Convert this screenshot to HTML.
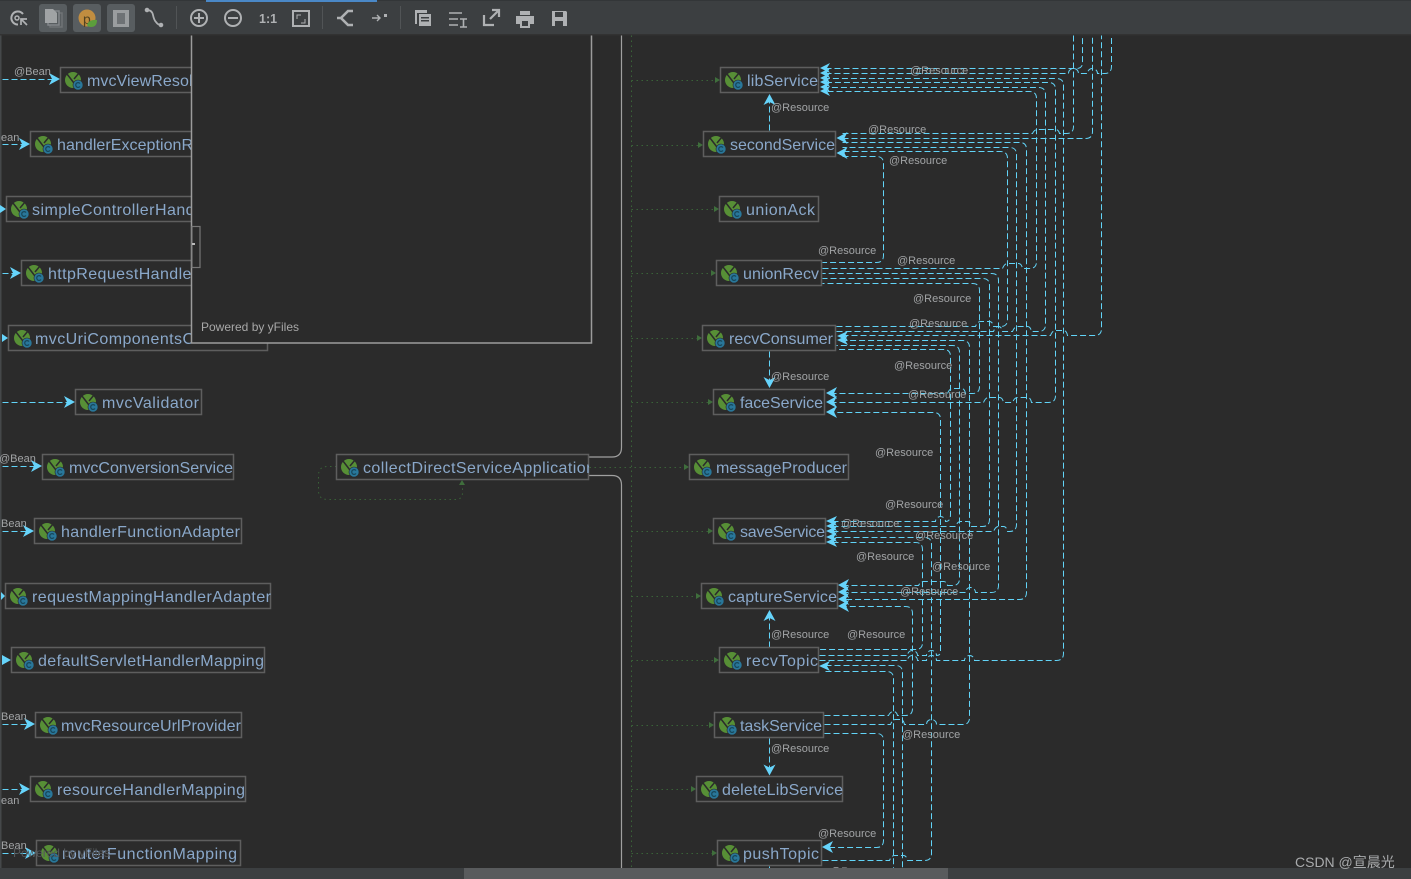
<!DOCTYPE html>
<html>
<head>
<meta charset="utf-8">
<style>
html,body{margin:0;padding:0;background:#2b2b2b;width:1411px;height:879px;overflow:hidden}
svg{display:block}
.n rect{fill:#2b2b2b;stroke:#5e5e5e;stroke-width:1.5}
.n text{font:16px "Liberation Sans",sans-serif;fill:#8aa8ca}
.l text{font:11px "Liberation Sans",sans-serif;fill:#a2a4a6}
.e path{fill:none;stroke:#62d4f8;stroke-width:1;stroke-dasharray:6 3}
.a path{fill:#66d4fb;stroke:none}
.g path{fill:none;stroke:#3a6338;stroke-width:1;stroke-dasharray:1.5 3.5}
.ga path{fill:#3f6e3c;stroke:none}
.ic path,.ic line,.ic circle{fill:none;stroke:#afb1b3;stroke-width:2}
</style>
</head>
<body>
<svg width="1411" height="879" viewBox="0 0 1411 879" xmlns="http://www.w3.org/2000/svg">
<defs>
<g id="i">
<circle r="8" fill="#578f36"/>
<path d="M-6 -6L4 7M1 -1L6 -7" stroke="#2b2b2b" stroke-width="1.5" fill="none"/>
<circle cx="5" cy="5" r="5" fill="#29779a" stroke="#2b2b2b" stroke-width=".6"/>
<path d="M7 3.5a2.4 2.4 0 1 0 0 3" stroke="#174658" stroke-width="1.2" fill="none"/>
</g>
<clipPath id="c1"><rect x="337" y="455" width="252" height="25"/></clipPath>
<clipPath id="c2"><rect x="0" y="325" width="191" height="30"/></clipPath>
</defs>
<rect width="1411" height="879" fill="#2b2b2b"/>
<rect x="0" y="35" width="1.5" height="844" fill="#45484a"/>

<!-- green dotted -->
<g class="g" transform="translate(.5 .5)">
<path d="M631 35V868"/>
<path d="M589 467H685"/>
<path d="M336 466H327q-9 0-9 9V490q0 9 9 9H455q7 0 7-7V486"/>
<path d="M631 80H715M631 145H698M631 209H714M631 273H711M631 338H697M631 402H708M631 531H708M631 596H696M631 660H714M631 725H709M631 789H691M631 853H712"/>
</g>
<g class="ga">
<path d="M720 80l-5-3v6zM703 145l-5-3v6zM719 209l-5-3v6zM716 273l-5-3v6zM702 338l-5-3v6zM713 402l-5-3v6zM689 467l-5-3v6zM713 531l-5-3v6zM701 596l-5-3v6zM719 660l-5-3v6zM714 725l-5-3v6zM696 789l-5-3v6zM717 853l-5-3v6zM462 480l-3 5h6z"/>
</g>

<!-- group lines -->
<path d="M589 457H612q9.500 0 9.500-9.500V35M589 475.500H612q9.500 0 9.500 9.500V868" fill="none" stroke="#a0a0a0" stroke-width="1.2"/>

<!-- cyan edges -->
<g class="e" transform="translate(.5 .5)">
<path d="M825 68H1076q6 0 6-6V35"/>
<path d="M825 73H1068a5 5 0 0 1 10 0H1087a5 5 0 0 1 10 0H1104q7 0 7-7V35"/>
<path d="M819 660H907a5 5 0 0 1 10 0H926a5 5 0 0 1 10 0H964a5 5 0 0 1 10 0H1056q7 0 7-7V85q0-7-7-7H825"/>
<path d="M830 402H983q2-5 5-5H999q3 0 4 5H1012q2-5 5-5H1027q3 0 4 5H1048q7 0 7-7V89q0-7-7-7H825"/>
<path d="M836 331H993q2-5 5-5q3 0 4 5H1012q2-5 5-5H1027q3 0 4 5H1038q7 0 7-7V94q0-7-7-7H825"/>
<path d="M822 268H1002q2-5 5-5H1018q3 0 4 5H1029q7 0 7-7V98q0-7-7-7H825"/>
<path d="M842 133H1032q2-4 5-4H1055q3 0 4 4H1066q7 0 7-7V35"/>
<path d="M842 138H1085q7 0 7-7V35"/>
<path d="M842 142H1019q7 0 7 7V592q0 7-7 7H842"/>
<path d="M832 531H993q2-5 5-5H1003q3 0 4 5H1009q7 0 7-7V154q0-7-7-7H842"/>
<path d="M836 326H975q2-5 5-5H989q3 0 4 5H1000q7 0 7-7V158q0-7-7-7H842"/>
<path d="M842 156H876q7 0 7 7V255q0 7-7 7H822"/>
<path d="M842 592H965a5 5 0 0 1 10 0H991q7 0 7-7V280q0-7-7-7H822"/>
<path d="M832 526H955q2-5 5-5H967q3 0 4 5H982q7 0 7-7V285q0-7-7-7H822"/>
<path d="M830 393H947q2-5 5-5H961q3 0 4 5H972q7 0 7-7V290q0-7-7-7H822"/>
<path d="M842 335H1050q2-5 5-5H1063q3 0 4 5H1094q7 0 7-7V35"/>
<path d="M824 724H890q2-5 5-5H900q3 0 4 5H926a5 5 0 0 1 10 0H962q7 0 7-7V347q0-7-7-7H842"/>
<path d="M842 585H918q2-4 5-4H943q3 0 4 4H952q7 0 7-7V352q0-7-7-7H836"/>
<path d="M832 521H935a5 5 0 0 1 10 0q5 0 5-7V356q0-7-7-7H836"/>
<path d="M819 655H907a5 5 0 0 1 10 0H926a5 5 0 0 1 10 0q4 0 4-4V419q0-7-7-7H830"/>
<path d="M822 860H889q2-5 5-5H903q3 0 4 5H924q7 0 7-7V544q0-7-7-7H832"/>
<path d="M832 542H915q7 0 7 7V642q0 7-7 7H819"/>
<path d="M824 715H888q2-4 5-4q3 0 4 4H905q7 0 7-7V613q0-7-7-7H842"/>
<path d="M825 665H895q7 0 7 7V868"/>
<path d="M825 671H886q7 0 7 7V868"/>
<path d="M824 733H876q7 0 7 7V840q0 7-7 7H827"/>
<path d="M769 130V100M769 351V380M769 647V616M769 738V768M769 866V868"/>
<path d="M2 79H54M2 144H24M2 273H15M2 402H69M2 466H36M2 531H28M2 724H29M2 789H24M2 853H30"/>
</g>

<!-- nodes -->
<g class="n">
<rect x="60.500" y="67.500" width="200" height="25"/><use href="#i" x="73" y="80"/><text x="87" y="86" textLength="128">mvcViewResolver</text>
<rect x="30.500" y="131.500" width="200" height="25"/><use href="#i" x="43" y="144"/><text x="57" y="150" textLength="188">handlerExceptionResolver</text>
<rect x="6.500" y="196.500" width="220" height="25"/><use href="#i" x="19" y="209"/><text x="32" y="215" textLength="241">simpleControllerHandlerAdapter</text>
<rect x="21.500" y="260.500" width="220" height="25"/><use href="#i" x="34" y="273"/><text x="48" y="279" textLength="208">httpRequestHandlerAdapter</text>
<rect x="8.500" y="325.500" width="259" height="25"/><use href="#i" x="22" y="338"/><text x="35" y="344" textLength="231" clip-path="url(#c2)">mvcUriComponentsContributor</text>
<rect x="75.500" y="389.500" width="126" height="25"/><use href="#i" x="88" y="402"/><text x="102" y="408" textLength="97">mvcValidator</text>
<rect x="42.500" y="454.500" width="191" height="25"/><use href="#i" x="55" y="467"/><text x="69" y="473" textLength="164">mvcConversionService</text>
<rect x="34.500" y="518.500" width="207" height="25"/><use href="#i" x="47" y="531"/><text x="61" y="537" textLength="179">handlerFunctionAdapter</text>
<rect x="5.500" y="583.500" width="265" height="25"/><use href="#i" x="18" y="596"/><text x="32" y="602" textLength="239">requestMappingHandlerAdapter</text>
<rect x="11.500" y="647.500" width="253" height="25"/><use href="#i" x="24" y="660"/><text x="38" y="666" textLength="226">defaultServletHandlerMapping</text>
<rect x="35.500" y="712.500" width="206" height="25"/><use href="#i" x="48" y="725"/><text x="61" y="731" textLength="180">mvcResourceUrlProvider</text>
<rect x="30.500" y="776.500" width="215" height="25"/><use href="#i" x="43" y="789"/><text x="57" y="795" textLength="188">resourceHandlerMapping</text>
<rect x="36.500" y="840.500" width="204" height="25"/><use href="#i" x="49" y="853"/><text x="62" y="859" textLength="175">routerFunctionMapping</text>

<rect x="336.500" y="454.500" width="252" height="25"/><use href="#i" x="349" y="467"/><text x="363" y="473" textLength="232" clip-path="url(#c1)">collectDirectServiceApplication</text>

<rect x="720.500" y="67.500" width="98" height="25"/><use href="#i" x="733" y="80"/><text x="747" y="86" textLength="71">libService</text>
<rect x="703.500" y="131.500" width="132" height="25"/><use href="#i" x="716" y="144"/><text x="730" y="150" textLength="105">secondService</text>
<rect x="719.500" y="196.500" width="99" height="25"/><use href="#i" x="732" y="209"/><text x="746" y="215" textLength="69">unionAck</text>
<rect x="716.500" y="260.500" width="105" height="25"/><use href="#i" x="729" y="273"/><text x="743" y="279" textLength="76">unionRecv</text>
<rect x="702.500" y="325.500" width="133" height="25"/><use href="#i" x="715" y="338"/><text x="729" y="344" textLength="104">recvConsumer</text>
<rect x="713.500" y="389.500" width="111" height="25"/><use href="#i" x="726" y="402"/><text x="740" y="408" textLength="83">faceService</text>
<rect x="689.500" y="454.500" width="159" height="25"/><use href="#i" x="702" y="467"/><text x="716" y="473" textLength="131">messageProducer</text>
<rect x="713.500" y="518.500" width="112" height="25"/><use href="#i" x="726" y="531"/><text x="740" y="537" textLength="85">saveService</text>
<rect x="701.500" y="583.500" width="136" height="25"/><use href="#i" x="714" y="596"/><text x="728" y="602" textLength="109">captureService</text>
<rect x="719.500" y="647.500" width="99" height="25"/><use href="#i" x="732" y="660"/><text x="746" y="666" textLength="72">recvTopic</text>
<rect x="714.500" y="712.500" width="109" height="25"/><use href="#i" x="727" y="725"/><text x="740" y="731" textLength="82">taskService</text>
<rect x="696.500" y="776.500" width="146" height="25"/><use href="#i" x="709" y="789"/><text x="722" y="795" textLength="121">deleteLibService</text>
<rect x="717.500" y="840.500" width="104" height="25"/><use href="#i" x="730" y="853"/><text x="743" y="859" textLength="76">pushTopic</text>
</g>

<!-- arrowheads -->
<g class="a">
<path d="M820 68l10-5l-3 5l3 5zM820 73l10-5l-3 5l3 5zM820 78l10-5l-3 5l3 5zM820 82l10-5l-3 5l3 5zM820 87l10-5l-3 5l3 5zM820 91l10-5l-3 5l3 5z"/>
<path d="M836.500 138l11-6l-3 6l3 6zM836.500 153l11-6l-3 6l3 6z"/>
<path d="M837 336l11-5l-3 5l3 5zM837 340l11-5l-3 5l3 5z"/>
<path d="M826 393l11-6l-3 6l3 6zM826 402l11-6l-3 6l3 6zM826 412l11-6l-3 6l3 6z"/>
<path d="M826 521l11-5l-3 5l3 5zM826 526l11-5l-3 5l3 5zM826 531l11-5l-3 5l3 5zM826 537l11-5l-3 5l3 5zM826 542l11-5l-3 5l3 5z"/>
<path d="M838 585l11-6l-3 6l3 6zM838 592l11-6l-3 6l3 6zM838 599l11-6l-3 6l3 6zM838 606l11-6l-3 6l3 6z"/>
<path d="M819 666l11-5l-3 5l3 5z"/>
<path d="M822 847l11-6l-3 6l3 6z"/>
<path d="M769.500 94l-6 11l6-3l6 3zM769.500 388l-6-11l6 3l6-3zM769.500 610l-6 11l6-3l6 3zM769.500 775.500l-6-11l6 3l6-3z"/>
<path d="M60 79l-11-6l3 6l-3 6zM30 144l-11-6l3 6l-3 6zM6 209l-6-4v8zM21 273l-11-6l3 6l-3 6zM8 338l-6-4v8zM75 402l-11-6l3 6l-3 6zM42 466l-11-6l3 6l-3 6zM34 531l-11-6l3 6l-3 6zM5 596l-4-4v8zM11 660l-9-5v10zM35 724l-11-6l3 6l-3 6zM30 789l-11-6l3 6l-3 6zM36 853l-11-6l3 6l-3 6z"/>
</g>

<!-- labels -->
<g class="l">
<text x="910" y="74">@Resource</text>
<text x="771" y="111">@Resource</text>
<text x="868" y="133">@Resource</text>
<text x="889" y="164">@Resource</text>
<text x="818" y="254">@Resource</text>
<text x="897" y="264">@Resource</text>
<text x="913" y="302">@Resource</text>
<text x="909" y="327">@Resource</text>
<text x="771" y="380">@Resource</text>
<text x="894" y="369">@Resource</text>
<text x="908" y="398">@Resource</text>
<text x="875" y="456">@Resource</text>
<text x="885" y="508">@Resource</text>
<text x="841" y="527">@Resource</text>
<text x="915" y="539">@Resource</text>
<text x="856" y="560">@Resource</text>
<text x="932" y="570">@Resource</text>
<text x="900" y="595">@Resource</text>
<text x="771" y="638">@Resource</text>
<text x="847" y="638">@Resource</text>
<text x="771" y="752">@Resource</text>
<text x="902" y="738">@Resource</text>
<text x="818" y="837">@Resource</text>
<text x="830" y="875">@Resource</text>
<text x="14" y="75">@Bean</text>
<text x="-1" y="462">@Bean</text>
<text x="1" y="141">ean</text>
<text x="1" y="527">Bean</text>
<text x="1" y="720">Bean</text>
<text x="1" y="804">ean</text>
<text x="1" y="849">Bean</text>
</g>
<text x="13" y="857" font-family="Liberation Sans, sans-serif" font-size="12" fill="#55585a" textLength="97">Powered by yFiles</text>

<!-- overview panel -->
<rect x="191.500" y="30" width="400" height="313" fill="#2b2b2b" stroke="#9c9c9c" stroke-width="1.500"/>
<rect x="192" y="226.500" width="8" height="41" fill="#2b2b2b" stroke="#777" stroke-width="1.200"/>
<rect x="192" y="243" width="3" height="2" fill="#bbb"/>
<text x="201" y="331" font-family="Liberation Sans, sans-serif" font-size="12" fill="#a8a8a8" textLength="98">Powered by yFiles</text>

<!-- scrollbar -->
<rect x="0" y="868" width="1411" height="11" fill="#3c3f41"/>
<rect x="464" y="868" width="484" height="11" fill="#595b5d"/>

<!-- toolbar -->
<rect x="0" y="0" width="1411" height="34.500" fill="#3c3f41"/>
<rect x="0" y="34" width="1411" height="1.500" fill="#323232"/>
<rect x="0" y="0" width="1411" height="1" fill="#333638"/>
<rect x="206" y="0" width="171" height="2" fill="#4a88c7"/>
<rect x="39" y="4" width="28" height="28" rx="3" fill="#585d60"/>
<rect x="73" y="4" width="28" height="28" rx="3" fill="#585d60"/>
<rect x="107" y="4" width="28" height="28" rx="3" fill="#585d60"/>
<rect x="176" y="6" width="1" height="23" fill="#515456"/>
<rect x="322" y="6" width="1" height="23" fill="#515456"/>
<rect x="400" y="6" width="1" height="23" fill="#515456"/>
<g class="ic">
<path d="M23 14a6.500 6.500 0 1 0 -5 10.500" style="stroke-width:2"/>
<circle cx="17" cy="18" r="2" style="stroke-width:1.500"/>
<path d="M21 19l6 6M21 25l0-6l6 0" style="stroke-width:1.700"/>
<path d="M147 10q5 0 6 5t3 7q2 3 5 3" style="stroke-width:1.800"/>
<circle cx="147" cy="10" r="1.800" style="fill:#afb1b3;stroke-width:1"/>
<circle cx="161" cy="25" r="1.800" style="fill:#afb1b3;stroke-width:1"/>
<circle cx="199" cy="18" r="8"/>
<path d="M194 18h10M199 13v10"/>
<circle cx="233" cy="18" r="8"/>
<path d="M228 18h10"/>
<path d="M293 11h16v15h-16z"/>
<path d="M297 19v-4h4M305 19v4h-4" style="stroke-width:1"/>
<path d="M353 11h-5l-7 7l7 7h5M337 18h5" style="stroke-width:2.600"/>
<path d="M372 18h7M377 15l3 3l-3 3" style="stroke-width:1.400"/>
<path d="M449 13h13M449 19h9M449 25h9M460 19h7M463.500 19v8M460 27h7" style="stroke-width:1.600"/>
<path d="M484 15v10h10M490 19l8-8M492 10h7v7" style="stroke-width:2.200"/>
</g>
<g fill="#afb1b3">
<path d="M50 13h12v14h-12z" fill="none" stroke="#6f7376" stroke-width="1.500"/>
<path d="M48 11h11v14h-11z" fill="#585d60" stroke="#83878a" stroke-width="1.500"/>
<path d="M45 9h8l4 4v10h-12z" fill="#a0a3a5"/>
<rect x="113" y="10" width="16" height="17" fill="#9a9d9f"/>
<rect x="117" y="13" width="8" height="11" fill="#6e7275"/>
<rect x="416" y="10" width="11" height="3"/>
<path d="M419 14h12v12h-12zM421 17v1.500h8v-1.500zM421 20v1.500h8v-1.500z" fill-rule="evenodd"/>
<rect x="415" y="10" width="2" height="14"/>
<path d="M520 11h10v4h-10zM516 16h18v8h-4v4h-10v-4h-4zM522 21v5h6v-5z" fill-rule="evenodd"/>
<path d="M552 11h14l1 1v14h-15zM555 12v5h8v-5zM555 21v5h8v-5z" fill-rule="evenodd"/>
<rect x="384" y="14" width="3" height="3"/>
</g>
<circle cx="87" cy="18" r="8.500" fill="#c18d40"/>
<text x="83" y="24" font-family="Liberation Sans, sans-serif" font-size="14" fill="#54431f">p</text>
<path d="M87 25q2-6 10-5q0 7-6 7q-3 0-4-2z" fill="#5c9e3c"/>
<text x="259" y="23" font-family="Liberation Sans, sans-serif" font-weight="bold" font-size="12.500" fill="#afb1b3">1:1</text>

<text x="1295" y="867" font-family="Liberation Sans, Noto Sans CJK SC, sans-serif" font-size="14" fill="#a9abad">CSDN @宣晨光</text>
</svg>
</body>
</html>
